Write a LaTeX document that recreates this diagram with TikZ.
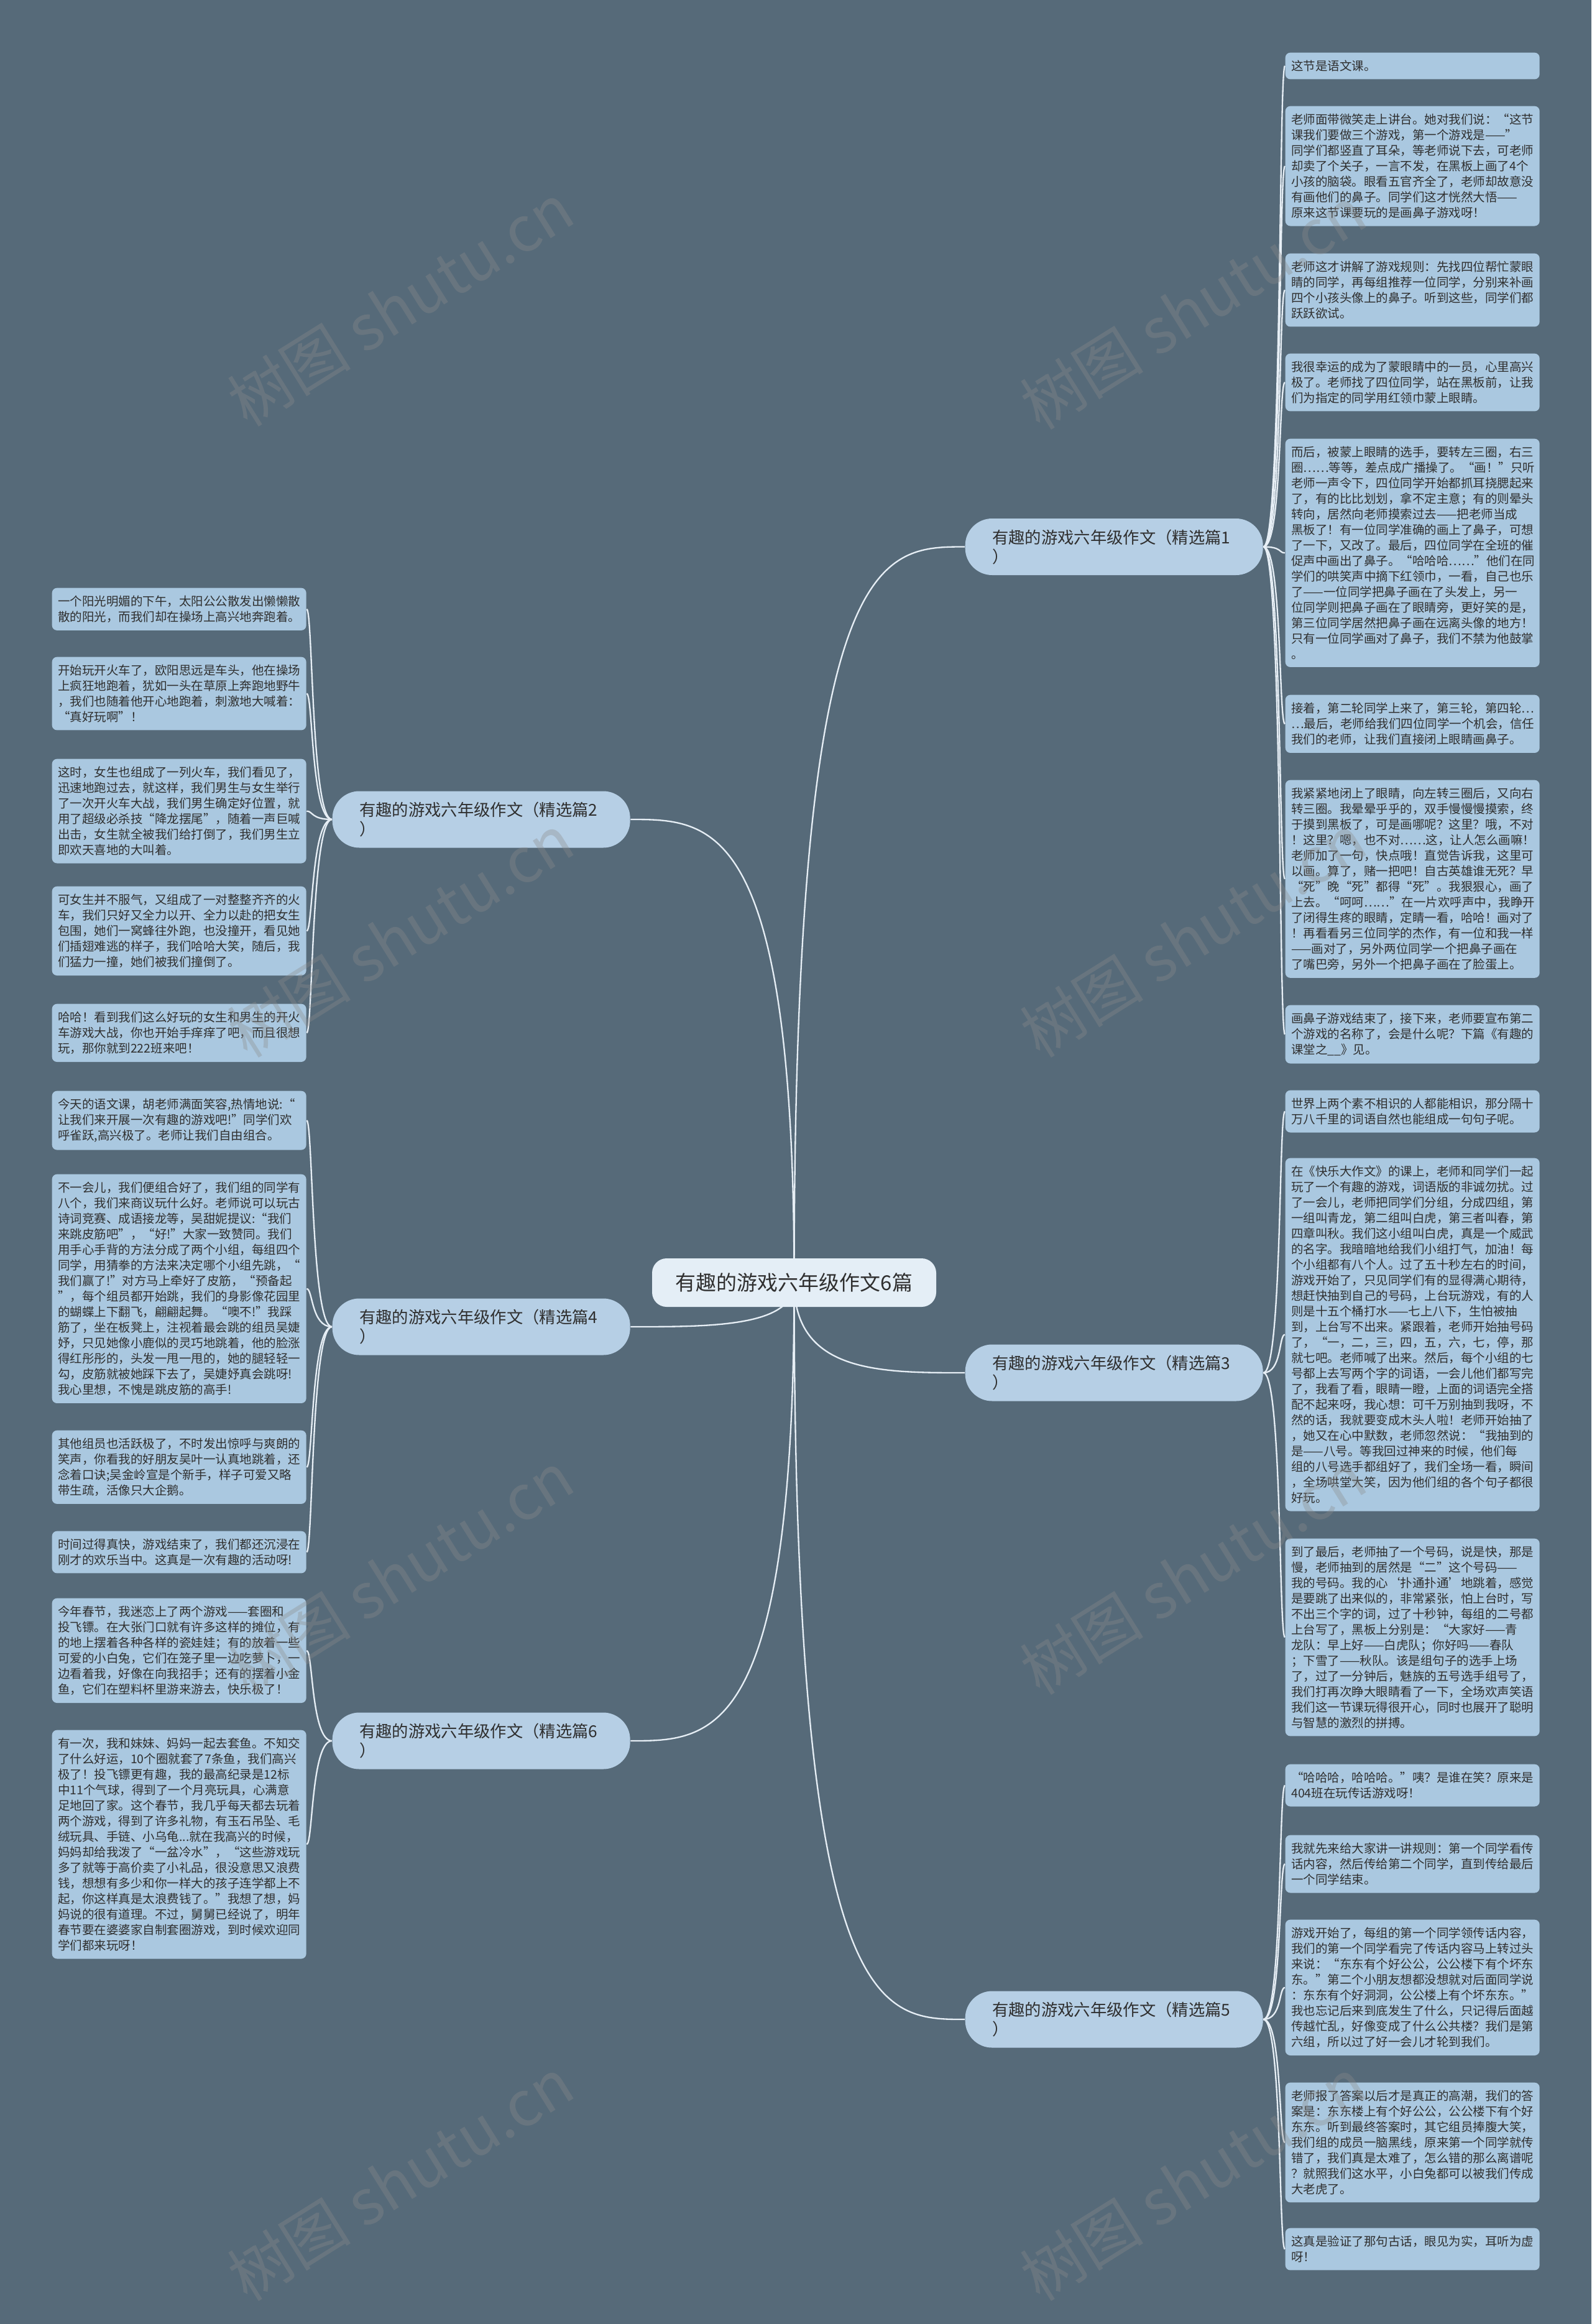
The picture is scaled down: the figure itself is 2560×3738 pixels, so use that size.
\documentclass[tikz,border=0pt]{standalone}
\usepackage{fontspec}
\setmainfont{Noto Sans CJK SC}
\usetikzlibrary{calc}
\definecolor{bgc}{HTML}{566A79}
\definecolor{leafc}{HTML}{AAC8E0}
\definecolor{branchc}{HTML}{B6CFE5}
\definecolor{rootc}{HTML}{E4EEF6}
\definecolor{linec}{HTML}{E6EEF5}
\definecolor{txtc}{HTML}{2F2F2F}
\definecolor{wmc}{HTML}{8C8C8C}
\pgfdeclarelayer{bglayer}
\pgfdeclarelayer{linelayer}
\pgfsetlayers{bglayer,linelayer,main}
\hfuzz=200pt \hbadness=10000 \vbadness=10000
\begin{document}
\begin{tikzpicture}[x=0.3pt,y=-0.3pt,
  leaf/.style={fill=leafc, rounded corners=2.4pt, text width=117pt, inner xsep=2.85pt, inner ysep=3.7pt, align=left, font=\fontsize{5.85pt}{7.5pt}\selectfont, text=txtc, anchor=north west},
  branch/.style={fill=branchc, rounded corners=13pt, text width=117.7pt, inner xsep=13pt, inner ysep=3pt, minimum height=27.3pt, align=left, font=\fontsize{7.9pt}{9.3pt}\selectfont, text=txtc, anchor=west},
  rootbox/.style={fill=rootc, rounded corners=7pt, minimum width=137.1pt, minimum height=23.4pt, font=\fontsize{9.9pt}{12pt}\selectfont, text=txtc},
  conn/.style={draw=linec, line width=0.7pt},
  wm/.style={font=\fontsize{30pt}{30pt}\selectfont, text=wmc, text opacity=0.35, rotate=32}
]
\begin{pgfonlayer}{bglayer}
\fill[bgc] (0,0) rectangle (2560,3738);
\end{pgfonlayer}
\useasboundingbox (0,0) rectangle (2560,3738);

% root
\node[rootbox] (root) at (1277.5,2063) {有趣的游戏六年级作文6篇};

% branches
\node[branch] (b1) at (1552,879.5) {有趣的游戏六年级作文（精选篇1\\）};
\node[branch] (b3) at (1552,2208) {有趣的游戏六年级作文（精选篇3\\）};
\node[branch] (b5) at (1552,3248) {有趣的游戏六年级作文（精选篇5\\）};
\node[branch] (b2) at (534,1318) {有趣的游戏六年级作文（精选篇2\\）};
\node[branch] (b4) at (534,2134) {有趣的游戏六年级作文（精选篇4\\）};
\node[branch] (b6) at (534,2800) {有趣的游戏六年级作文（精选篇6\\）};

% right leaves
\node[leaf] (r1) at (2067,84) {这节是语文课。};
\node[leaf] (r2) at (2067,170) {老师面带微笑走上讲台。她对我们说：“这节\\
课我们要做三个游戏，第一个游戏是——”\\
同学们都竖直了耳朵，等老师说下去，可老师\\
却卖了个关子，一言不发，在黑板上画了4个\\
小孩的脑袋。眼看五官齐全了，老师却故意没\\
有画他们的鼻子。同学们这才恍然大悟——\\
原来这节课要玩的是画鼻子游戏呀！};
\node[leaf] (r3) at (2067,407) {老师这才讲解了游戏规则：先找四位帮忙蒙眼\\
睛的同学，再每组推荐一位同学，分别来补画\\
四个小孩头像上的鼻子。听到这些，同学们都\\
跃跃欲试。};
\node[leaf] (r4) at (2067,568) {我很幸运的成为了蒙眼睛中的一员，心里高兴\\
极了。老师找了四位同学，站在黑板前，让我\\
们为指定的同学用红领巾蒙上眼睛。};
\node[leaf] (r5) at (2067,705) {而后，被蒙上眼睛的选手，要转左三圈，右三\\
圈……等等，差点成广播操了。“画！”只听\\
老师一声令下，四位同学开始都抓耳挠腮起来\\
了，有的比比划划，拿不定主意；有的则晕头\\
转向，居然向老师摸索过去——把老师当成\\
黑板了！有一位同学准确的画上了鼻子，可想\\
了一下，又改了。最后，四位同学在全班的催\\
促声中画出了鼻子。“哈哈哈……”他们在同\\
学们的哄笑声中摘下红领巾，一看，自己也乐\\
了——一位同学把鼻子画在了头发上，另一\\
位同学则把鼻子画在了眼睛旁，更好笑的是，\\
第三位同学居然把鼻子画在远离头像的地方！\\
只有一位同学画对了鼻子，我们不禁为他鼓掌\\
。};
\node[leaf] (r6) at (2067,1117) {接着，第二轮同学上来了，第三轮，第四轮…\\
…最后，老师给我们四位同学一个机会，信任\\
我们的老师，让我们直接闭上眼睛画鼻子。};
\node[leaf] (r7) at (2067,1254) {我紧紧地闭上了眼睛，向左转三圈后，又向右\\
转三圈。我晕晕乎乎的，双手慢慢慢摸索，终\\
于摸到黑板了，可是画哪呢？这里？哦，不对\\
！这里？嗯，也不对……这，让人怎么画嘛！\\
老师加了一句，快点哦！直觉告诉我，这里可\\
以画。算了，赌一把吧！自古英雄谁无死？早\\
“死”晚“死”都得“死”。我狠狠心，画了\\
上去。“呵呵……”在一片欢呼声中，我睁开\\
了闭得生疼的眼睛，定睛一看，哈哈！画对了\\
！再看看另三位同学的杰作，有一位和我一样\\
——画对了，另外两位同学一个把鼻子画在\\
了嘴巴旁，另外一个把鼻子画在了脸蛋上。};
\node[leaf] (r8) at (2067,1616) {画鼻子游戏结束了，接下来，老师要宣布第二\\
个游戏的名称了，会是什么呢？下篇《有趣的\\
课堂之\_\_》见。};
\node[leaf] (r9) at (2067,1753) {世界上两个素不相识的人都能相识，那分隔十\\
万八千里的词语自然也能组成一句句子呢。};
\node[leaf] (r10) at (2067,1862) {在《快乐大作文》的课上，老师和同学们一起\\
玩了一个有趣的游戏，词语版的非诚勿扰。过\\
了一会儿，老师把同学们分组，分成四组，第\\
一组叫青龙，第二组叫白虎，第三者叫春，第\\
四章叫秋。我们这小组叫白虎，真是一个威武\\
的名字。我暗暗地给我们小组打气，加油！每\\
个小组都有八个人。过了五十秒左右的时间，\\
游戏开始了，只见同学们有的显得满心期待，\\
想赶快抽到自己的号码，上台玩游戏，有的人\\
则是十五个桶打水——七上八下，生怕被抽\\
到，上台写不出来。紧跟着，老师开始抽号码\\
了，“一，二，三，四，五，六，七，停，那\\
就七吧。老师喊了出来。然后，每个小组的七\\
号都上去写两个字的词语，一会儿他们都写完\\
了，我看了看，眼睛一瞪，上面的词语完全搭\\
配不起来呀，我心想：可千万别抽到我呀，不\\
然的话，我就要变成木头人啦！老师开始抽了\\
，她又在心中默数，老师忽然说：“我抽到的\\
是——八号。等我回过神来的时候，他们每\\
组的八号选手都组好了，我们全场一看，瞬间\\
，全场哄堂大笑，因为他们组的各个句子都很\\
好玩。};
\node[leaf] (r11) at (2067,2474) {到了最后，老师抽了一个号码，说是快，那是\\
慢，老师抽到的居然是“二”这个号码——\\
我的号码。我的心‘扑通扑通’地跳着，感觉\\
是要跳了出来似的，非常紧张，怕上台时，写\\
不出三个字的词，过了十秒钟，每组的二号都\\
上台写了，黑板上分别是：“大家好——青\\
龙队：早上好——白虎队；你好吗——春队\\
；下雪了——秋队。该是组句子的选手上场\\
了，过了一分钟后，魅族的五号选手组号了，\\
我们打再次睁大眼睛看了一下，全场欢声笑语\\
我们这一节课玩得很开心，同时也展开了聪明\\
与智慧的激烈的拼搏。};
\node[leaf] (r12) at (2067,2837) {“哈哈哈，哈哈哈。”咦？是谁在笑？原来是\\
404班在玩传话游戏呀！};
\node[leaf] (r13) at (2067,2951) {我就先来给大家讲一讲规则：第一个同学看传\\
话内容，然后传给第二个同学，直到传给最后\\
一个同学结束。};
\node[leaf] (r14) at (2067,3087) {游戏开始了，每组的第一个同学领传话内容，\\
我们的第一个同学看完了传话内容马上转过头\\
来说：“东东有个好公公，公公楼下有个坏东\\
东。”第二个小朋友想都没想就对后面同学说\\
：东东有个好洞洞，公公楼上有个坏东东。”\\
我也忘记后来到底发生了什么，只记得后面越\\
传越忙乱，好像变成了什么公共楼？我们是第\\
六组，所以过了好一会儿才轮到我们。};
\node[leaf] (r15) at (2067,3349) {老师报了答案以后才是真正的高潮，我们的答\\
案是：东东楼上有个好公公，公公楼下有个好\\
东东。听到最终答案时，其它组员捧腹大笑，\\
我们组的成员一脑黑线，原来第一个同学就传\\
错了，我们真是太难了，怎么错的那么离谱呢\\
？就照我们这水平，小白兔都可以被我们传成\\
大老虎了。};
\node[leaf] (r16) at (2067,3583) {这真是验证了那句古话，眼见为实，耳听为虚\\
呀！};

% left leaves
\node[leaf] (l1) at (83,945) {一个阳光明媚的下午，太阳公公散发出懒懒散\\
散的阳光，而我们却在操场上高兴地奔跑着。};
\node[leaf] (l2) at (83,1056) {开始玩开火车了，欧阳思远是车头，他在操场\\
上疯狂地跑着，犹如一头在草原上奔跑地野牛\\
，我们也随着他开心地跑着，刺激地大喊着：\\
“真好玩啊”！};
\node[leaf] (l3) at (83,1220) {这时，女生也组成了一列火车，我们看见了，\\
迅速地跑过去，就这样，我们男生与女生举行\\
了一次开火车大战，我们男生确定好位置，就\\
用了超级必杀技“降龙摆尾”，随着一声巨喊\\
出击，女生就全被我们给打倒了，我们男生立\\
即欢天喜地的大叫着。};
\node[leaf] (l4) at (83,1425) {可女生并不服气，又组成了一对整整齐齐的火\\
车，我们只好又全力以开、全力以赴的把女生\\
包围，她们一窝蜂往外跑，也没撞开，看见她\\
们插翅难逃的样子，我们哈哈大笑，随后，我\\
们猛力一撞，她们被我们撞倒了。};
\node[leaf] (l5) at (83,1614) {哈哈！看到我们这么好玩的女生和男生的开火\\
车游戏大战，你也开始手痒痒了吧，而且很想\\
玩，那你就到222班来吧！};
\node[leaf] (l6) at (83,1754) {今天的语文课，胡老师满面笑容,热情地说:“\\
让我们来开展一次有趣的游戏吧!”同学们欢\\
呼雀跃,高兴极了。老师让我们自由组合。};
\node[leaf] (l7) at (83,1888) {不一会儿，我们便组合好了，我们组的同学有\\
八个，我们来商议玩什么好。老师说可以玩古\\
诗词竞赛、成语接龙等，吴甜妮提议:“我们\\
来跳皮筋吧”，“好!”大家一致赞同。我们\\
用手心手背的方法分成了两个小组，每组四个\\
同学，用猜拳的方法来决定哪个小组先跳，“\\
我们赢了!”对方马上牵好了皮筋，“预备起\\
”，每个组员都开始跳，我们的身影像花园里\\
的蝴蝶上下翻飞，翩翩起舞。“噢不!”我踩\\
筋了，坐在板凳上，注视着最会跳的组员吴婕\\
妤，只见她像小鹿似的灵巧地跳着，他的脸涨\\
得红彤彤的，头发一甩一甩的，她的腿轻轻一\\
勾，皮筋就被她踩下去了，吴婕妤真会跳呀!\\
我心里想，不愧是跳皮筋的高手!};
\node[leaf] (l8) at (83,2300) {其他组员也活跃极了，不时发出惊呼与爽朗的\\
笑声，你看我的好朋友吴叶一认真地跳着，还\\
念着口诀;吴金岭宣是个新手，样子可爱又略\\
带生疏，活像只大企鹅。};
\node[leaf] (l9) at (83,2462) {时间过得真快，游戏结束了，我们都还沉浸在\\
刚才的欢乐当中。这真是一次有趣的活动呀!};
\node[leaf] (l10) at (83,2570) {今年春节，我迷恋上了两个游戏——套圈和\\
投飞镖。在大张门口就有许多这样的摊位，有\\
的地上摆着各种各样的瓷娃娃；有的放着一些\\
可爱的小白兔，它们在笼子里一边吃萝卜，一\\
边看着我，好像在向我招手；还有的摆着小金\\
鱼，它们在塑料杯里游来游去，快乐极了！};
\node[leaf] (l11) at (83,2782) {有一次，我和妹妹、妈妈一起去套鱼。不知交\\
了什么好运，10个圈就套了7条鱼，我们高兴\\
极了！投飞镖更有趣，我的最高纪录是12标\\
中11个气球，得到了一个月亮玩具，心满意\\
足地回了家。这个春节，我几乎每天都去玩着\\
两个游戏，得到了许多礼物，有玉石吊坠、毛\\
绒玩具、手链、小乌龟...就在我高兴的时候，\\
妈妈却给我泼了“一盆冷水”，“这些游戏玩\\
多了就等于高价卖了小礼品，很没意思又浪费\\
钱，想想有多少和你一样大的孩子连学都上不\\
起，你这样真是太浪费钱了。”我想了想，妈\\
妈说的很有道理。不过，舅舅已经说了，明年\\
春节要在婆婆家自制套圈游戏，到时候欢迎同\\
学们都来玩呀！};

% connectors
\begin{pgfonlayer}{linelayer}
\foreach \b in {b1,b3,b5}
  \draw[conn] (root.center) .. controls (root.center |- \b.west) and ($(root.center |- \b.west)!0.5!(\b.west)$) .. (\b.west);
\foreach \b in {b2,b4,b6}
  \draw[conn] (root.center) .. controls (root.center |- \b.east) and ($(root.center |- \b.east)!0.5!(\b.east)$) .. (\b.east);
\foreach \b/\ls in {b1/{r1,r2,r3,r4,r5,r6,r7,r8}, b3/{r9,r10,r11}, b5/{r12,r13,r14,r15,r16}} {
  \foreach \l in \ls {
    \draw[conn] (\b.east) .. controls ([xshift=9pt]\b.east) and ([xshift=-3pt]\l.west) .. (\l.west);
  }
}
\foreach \b/\ls in {b2/{l1,l2,l3,l4,l5}, b4/{l6,l7,l8,l9}, b6/{l10,l11}} {
  \foreach \l in \ls {
    \draw[conn] (\b.west) .. controls ([xshift=-10pt]\b.west) and ([xshift=3pt]\l.east) .. (\l.east);
  }
}
\end{pgfonlayer}

% watermarks
\node[wm] (w1) at (644,490) {树图 shutu.cn};
\node[wm] (w2) at (1919,495) {树图 shutu.cn};
\node[wm] (w3) at (644,1505) {树图 shutu.cn};
\node[wm] (w4) at (1919,1505) {树图 shutu.cn};
\node[wm] (w5) at (644,2530) {树图 shutu.cn};
\node[wm] (w6) at (1919,2530) {树图 shutu.cn};
\node[wm] (w7) at (644,3505) {树图 shutu.cn};
\node[wm] (w8) at (1919,3505) {树图 shutu.cn};
\end{tikzpicture}
\end{document}
